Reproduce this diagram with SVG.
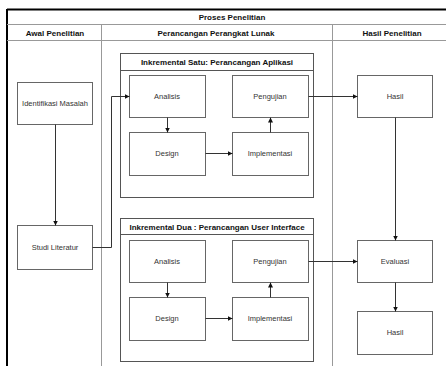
<svg xmlns="http://www.w3.org/2000/svg" width="446" height="367" viewBox="0 0 446 367">
<defs>
<marker id="ah" viewBox="0 0 10 10" refX="10" refY="5" markerWidth="5" markerHeight="5" orient="auto" markerUnits="userSpaceOnUse"><path d="M0,0 L10,5 L0,10 z" fill="#111"/></marker>
</defs>
<style>
.hd{font-family:"Liberation Sans",Arial,sans-serif;font-size:8px;font-weight:bold;fill:#111;text-anchor:middle}
.lb{font-family:"Liberation Sans",Arial,sans-serif;font-size:7.5px;fill:#333;text-anchor:middle}
.box{fill:#fff;stroke:#666;stroke-width:1}
.lane{fill:none;stroke:#999;stroke-width:1}
.cont{fill:none;stroke:#555;stroke-width:1}
.ed{fill:none;stroke:#333;stroke-width:1;marker-end:url(#ah)}
</style>
<rect width="446" height="367" fill="#fff"/>
<g id="pool">
<line x1="7" y1="9.5" x2="446" y2="9.5" stroke="#000" stroke-width="2"/>
<line x1="7" y1="9" x2="7" y2="366" stroke="#000" stroke-width="2"/>
<line class="lane" x1="7" y1="24.5" x2="446" y2="24.5"/>
<line class="lane" x1="7" y1="40.5" x2="446" y2="40.5"/>
<line class="lane" x1="101.5" y1="24.5" x2="101.5" y2="366"/>
<line class="lane" x1="332.5" y1="24.5" x2="332.5" y2="366"/>
<text class="hd" x="232" y="20">Proses Penelitian</text>
<text class="hd" x="55" y="35.5">Awal Penelitian</text>
<text class="hd" x="216" y="35.5">Perancangan Perangkat Lunak</text>
<text class="hd" x="392" y="35.5">Hasil Penelitian</text>
</g>
<g id="inkremental1">
<rect class="cont" x="120.5" y="53.5" width="193" height="144"/>
<line class="cont" x1="120.5" y1="70.5" x2="313.5" y2="70.5"/>
<text class="hd" x="217" y="65">Inkremental Satu: Perancangan Aplikasi</text>
</g>
<g id="inkremental2">
<rect class="cont" x="120.5" y="218.5" width="193" height="143"/>
<line class="cont" x1="120.5" y1="234.5" x2="313.5" y2="234.5"/>
<text class="hd" x="217" y="229.5">Inkremental Dua : Perancangan User Interface</text>
</g>
<g id="identifikasi"><rect class="box" x="17.5" y="82.5" width="75" height="42"/><text class="lb" x="55" y="106">Identifikasi Masalah</text></g>
<g id="studi"><rect class="box" x="17.5" y="225.5" width="75" height="44"/><text class="lb" x="55" y="250">Studi Literatur</text></g>
<g id="analisis1"><rect class="box" x="129.5" y="75.5" width="76" height="42"/><text class="lb" x="167" y="99">Analisis</text></g>
<g id="design1"><rect class="box" x="129.5" y="132.5" width="76" height="43"/><text class="lb" x="167" y="156">Design</text></g>
<g id="pengujian1"><rect class="box" x="232.5" y="75.5" width="76" height="42"/><text class="lb" x="270" y="99">Pengujian</text></g>
<g id="implementasi1"><rect class="box" x="232.5" y="132.5" width="76" height="43"/><text class="lb" x="270" y="156">Implementasi</text></g>
<g id="analisis2"><rect class="box" x="129.5" y="240.5" width="76" height="42"/><text class="lb" x="167" y="264">Analisis</text></g>
<g id="design2"><rect class="box" x="129.5" y="297.5" width="76" height="43"/><text class="lb" x="167" y="321">Design</text></g>
<g id="pengujian2"><rect class="box" x="232.5" y="240.5" width="76" height="42"/><text class="lb" x="270" y="264">Pengujian</text></g>
<g id="implementasi2"><rect class="box" x="232.5" y="297.5" width="76" height="43"/><text class="lb" x="270" y="321">Implementasi</text></g>
<g id="hasil1"><rect class="box" x="357.5" y="75.5" width="75" height="42"/><text class="lb" x="395" y="99">Hasil</text></g>
<g id="evaluasi"><rect class="box" x="357.5" y="240.5" width="75" height="42"/><text class="lb" x="395" y="264">Evaluasi</text></g>
<g id="hasil2"><rect class="box" x="357.5" y="311.5" width="75" height="43"/><text class="lb" x="395" y="335">Hasil</text></g>
<g id="connectors">
<path class="ed" d="M55.5,124.5 V225.5"/>
<path class="ed" d="M92.5,247.5 H111.5 V96.5 H129.5"/>
<path class="ed" d="M167.5,117.5 V132.5"/>
<path class="ed" d="M205.5,153.5 H232.5"/>
<path class="ed" d="M270.5,132.5 V117.5"/>
<path class="ed" d="M308.5,96.5 H357.5"/>
<path class="ed" d="M395.5,117.5 V240.5"/>
<path class="ed" d="M167.5,282.5 V297.5"/>
<path class="ed" d="M205.5,318.5 H232.5"/>
<path class="ed" d="M270.5,297.5 V282.5"/>
<path class="ed" d="M308.5,261.5 H357.5"/>
<path class="ed" d="M395.5,282.5 V311.5"/>
</g>
</svg>
